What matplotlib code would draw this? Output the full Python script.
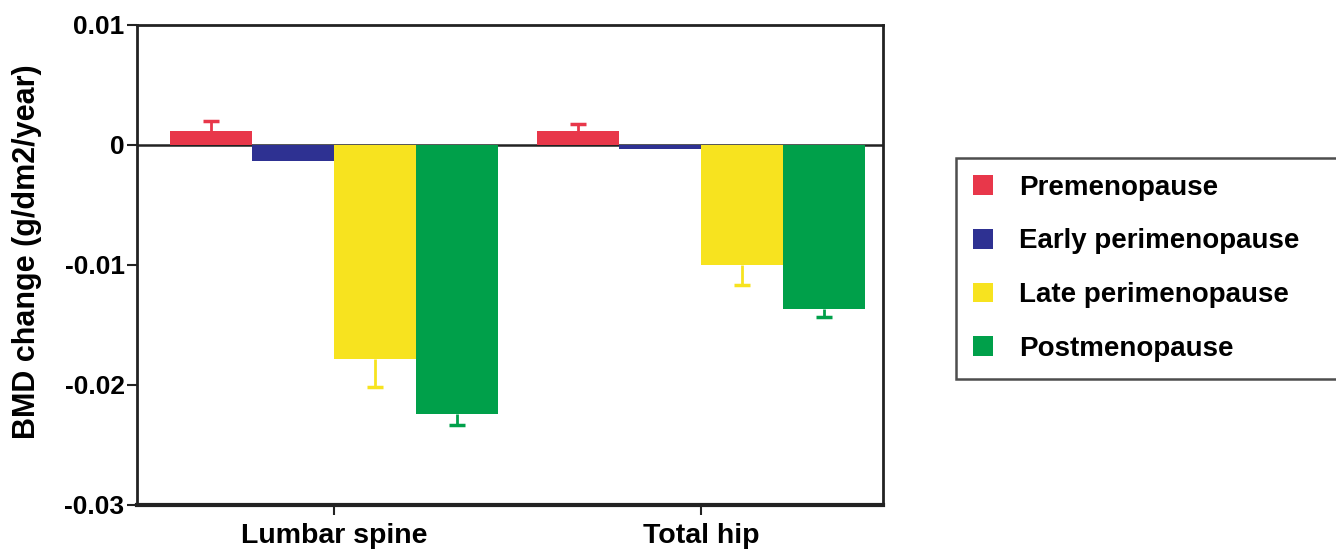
import matplotlib
matplotlib.use("Agg")
import matplotlib.pyplot as plt
import numpy as np

plt.rcParams['font.family'] = ['Liberation Sans', 'DejaVu Sans']
plt.rcParams['font.weight'] = 'bold'

sites = ["Lumbar spine", "Total hip"]
groups = ["Premenopause", "Early perimenopause", "Late perimenopause", "Postmenopause"]
colors = ["#E8374A", "#2E3192", "#F7E31F", "#00A04A"]

# BMD change per year, rows = groups, columns = sites
premeno = [0.00113, 0.00113]
early_peri = [-0.00137, -0.0003]
late_peri = [-0.0178, -0.0100]
postmeno = [-0.0224, -0.0137]
values = [premeno, early_peri, late_peri, postmeno]

# one-sided error (away from zero)
premeno_err = [0.0009, 0.0006]
early_peri_err = [0.0, 0.0]
late_peri_err = [0.0024, 0.0017]
postmeno_err = [0.0009, 0.0006]
errors = [premeno_err, early_peri_err, late_peri_err, postmeno_err]

yticks = [0.01, 0, -0.01, -0.02, -0.03]
ytick_labels = ["0.01", "0", "-0.01", "-0.02", "-0.03"]

fig = plt.figure(figsize=(13.36, 5.53), dpi=100)
ax = fig.add_axes([137 / 1336, 1 - 505 / 553, (883 - 137) / 1336, (505 - 25) / 553])

x = np.arange(len(sites))
w = 0.224
cap = 0.022
for i, (g, vals, errs, c) in enumerate(zip(groups, values, errors, colors)):
    pos = x + (i - 1.5) * w
    ax.bar(pos, vals, w, color=c, label=g, zorder=2)
    vals = np.array(vals)
    errs = np.array(errs)
    keep = errs > 0
    ends = vals + np.sign(vals) * errs
    # stem from bar end out to the cap, no cap at the bar itself
    ax.vlines(pos[keep], vals[keep], ends[keep], color=c, linewidth=2, zorder=2)
    ax.hlines(ends[keep], pos[keep] - cap, pos[keep] + cap, color=c, linewidth=2.5, zorder=2)

ax.axhline(0, color='#222222', linewidth=1.8, zorder=1)

ax.set_xlim(-0.538, 1.497)
ax.set_ylim(-0.03, 0.01)
ax.set_yticks(yticks)
ax.set_yticklabels(ytick_labels)
ax.set_xticks(x)
ax.set_xticklabels(sites)
ax.tick_params(axis='both', width=1.5, length=7, color='#222222')
ax.tick_params(axis='y', labelsize=19, pad=2)
ax.tick_params(axis='x', labelsize=20.5, pad=6)
for s in ax.spines.values():
    s.set_linewidth(2)
    s.set_color('#222222')
ax.spines['bottom'].set_linewidth(3)
ax.set_ylabel("BMD change (g/dm2/year)", fontsize=22, fontweight='bold')
ax.yaxis.set_label_coords(-0.128, 0.527)

leg = fig.legend(loc='upper left', bbox_to_anchor=(956 / 1336, 1 - 158 / 553, 0.35, 0),
                 mode='expand', fontsize=20, frameon=True, fancybox=False,
                 handlelength=0.72, handleheight=0.72, handletextpad=0.95,
                 labelspacing=1.0, borderpad=0.6, borderaxespad=0)
leg.get_frame().set_edgecolor('#222222')
leg.get_frame().set_linewidth(1.8)

fig.savefig("out.png", dpi=100)
